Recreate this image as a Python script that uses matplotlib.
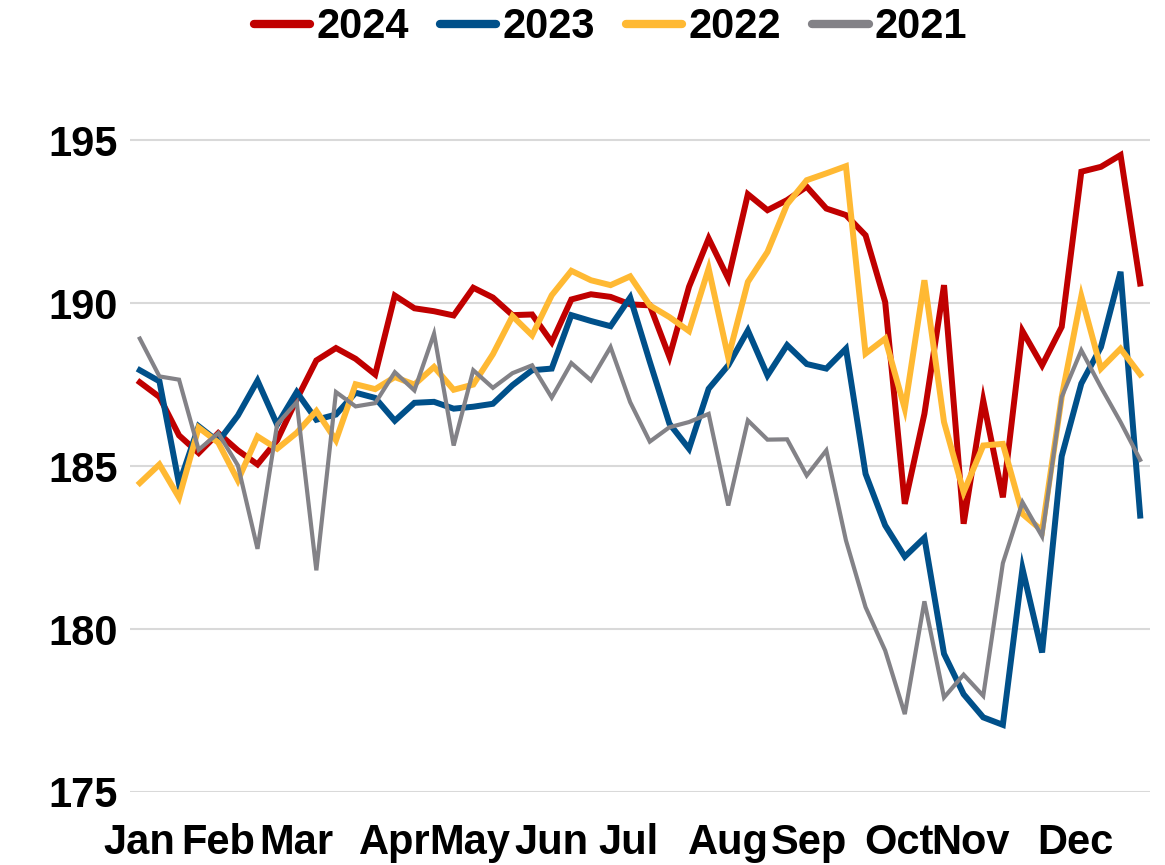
import matplotlib.pyplot as plt
import numpy as np

plt.rcParams['font.family'] = ['Liberation Sans', 'DejaVu Sans']
plt.rcParams['font.weight'] = 'bold'

years = ['2024', '2023', '2022', '2021']
colors = ['#C00000', '#00508A', '#FFB933', '#838287']
widths = [4.3, 4.3, 4.3, 3.0]

# weekly values, 52 weeks per year
y2024 = [187.57, 187.12, 185.94, 185.40, 186.01, 185.48, 185.05, 185.79, 187.05, 188.24,
         188.62, 188.29, 187.81, 190.23, 189.84, 189.75, 189.62, 190.47, 190.17, 189.63,
         189.65, 188.80, 190.11, 190.27, 190.19, 189.96, 189.93, 188.35, 190.50, 191.98,
         190.75, 193.34, 192.85, 193.16, 193.57, 192.90, 192.70, 192.08, 190.03, 183.84,
         186.60, 190.55, 183.23, 187.01, 184.04, 189.14, 188.09, 189.27, 194.03, 194.18,
         194.54, 190.60]
y2023 = [187.94, 187.60, 184.45, 186.22, 185.75, 186.55, 187.62, 186.27, 187.27, 186.42,
         186.58, 187.25, 187.09, 186.39, 186.94, 186.97, 186.76, 186.82, 186.91, 187.48,
         187.94, 187.99, 189.63, 189.45, 189.29, 190.17, 188.20, 186.30, 185.53, 187.37,
         188.09, 189.16, 187.78, 188.71, 188.13, 187.99, 188.60, 184.76, 183.18, 182.22,
         182.80, 179.24, 178.00, 177.29, 177.06, 181.85, 179.28, 185.30, 187.53, 188.65,
         190.96, 183.48]
y2022 = [184.48, 185.05, 184.03, 186.18, 185.72, 184.56, 185.91, 185.53, 186.02, 186.69,
         185.79, 187.51, 187.36, 187.73, 187.50, 188.04, 187.34, 187.50, 188.43, 189.60,
         189.01, 190.24, 190.99, 190.70, 190.55, 190.82, 189.93, 189.57, 189.14, 191.06,
         188.33, 190.65, 191.57, 193.03, 193.77, 193.98, 194.20, 188.45, 188.91, 186.76,
         190.70, 186.35, 184.20, 185.63, 185.68, 183.53, 183.02, 187.12, 190.21, 187.99,
         188.60, 187.81]
y2021 = [188.91, 187.75, 187.65, 185.50, 186.01, 185.02, 182.46, 186.28, 186.96, 181.80,
         187.27, 186.83, 186.93, 187.88, 187.32, 189.06, 185.63, 187.94, 187.40, 187.85,
         188.09, 187.10, 188.16, 187.63, 188.65, 186.96, 185.75, 186.19, 186.35, 186.60,
         183.79, 186.40, 185.81, 185.82, 184.71, 185.48, 182.72, 180.67, 179.34, 177.39,
         180.85, 177.90, 178.60, 177.95, 182.02, 183.89, 182.84, 187.12, 188.55, 187.42,
         186.35, 185.19]

months = ['Jan', 'Feb', 'Mar', 'Apr', 'May', 'Jun', 'Jul', 'Aug', 'Sep', 'Oct', 'Nov', 'Dec']
# month start expressed in weeks (date axis)
month_week = [0, 4, 8, 13, 16.8, 21, 24.9, 30, 34.1, 38.7, 42.35, 47.7]

series = [y2024, y2023, y2022, y2021]
weeks = np.arange(len(y2024))

fig = plt.figure(figsize=(11.65, 8.65), dpi=100)
ax = fig.add_axes([0.1116, 0.0844, 0.8755, 0.829])

for vals, name, c, lw in zip(series, years, colors, widths):
    ax.plot(weeks, vals, color=c, lw=lw, label=name, solid_joinstyle='miter')

ax.set_xlim(-0.5, 51.5)
ax.set_ylim(175, 197)
ax.set_yticks([175, 180, 185, 190, 195])
ax.set_xticks(month_week)
ax.set_xticklabels(months)
ax.tick_params(axis='both', length=0, labelsize=30)
ax.tick_params(axis='x', pad=22)
ax.tick_params(axis='y', pad=9)
ax.grid(axis='y', color='#D9D9D9', lw=1.5)
ax.set_axisbelow(True)
for s in ax.spines.values():
    s.set_visible(False)

fig.legend(loc='upper center', bbox_to_anchor=(0.524, 1.035), ncol=4, frameon=False,
           fontsize=30, handlelength=1.35, handletextpad=0.15, columnspacing=0.75)
for h in fig.legends[0].get_lines():
    h.set_linewidth(6)
    h.set_solid_capstyle('round')

fig.savefig('out.png', dpi=100)
